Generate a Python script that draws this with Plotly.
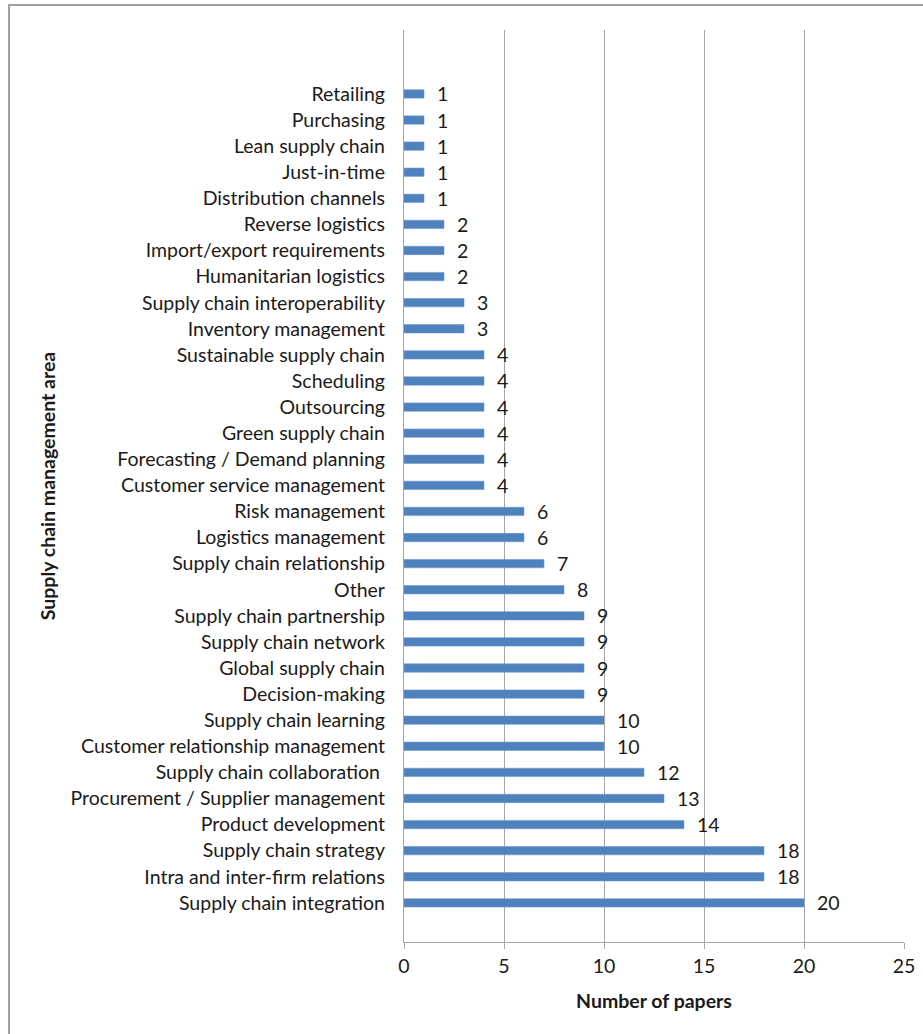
import plotly.graph_objects as go

categories = [
    "Supply chain integration", "Intra and inter-firm relations", "Supply chain strategy",
    "Product development", "Procurement / Supplier management", "Supply chain collaboration ",
    "Customer relationship management", "Supply chain learning", "Decision-making",
    "Global supply chain", "Supply chain network", "Supply chain partnership", "Other",
    "Supply chain relationship", "Logistics management", "Risk management",
    "Customer service management", "Forecasting / Demand planning", "Green supply chain",
    "Outsourcing", "Scheduling", "Sustainable supply chain", "Inventory management",
    "Supply chain interoperability", "Humanitarian logistics", "Import/export requirements",
    "Reverse logistics", "Distribution channels", "Just-in-time", "Lean supply chain",
    "Purchasing", "Retailing",
]
papers = [20, 18, 18, 14, 13, 12, 10, 10, 9, 9, 9, 9, 8, 7, 6, 6,
          4, 4, 4, 4, 4, 4, 3, 3, 2, 2, 2, 1, 1, 1, 1, 1]
x_ticks = [0, 5, 10, 15, 20, 25]

FONT = "Lato, Carlito, Calibri, sans-serif"
FS = 19.5

fig = go.Figure(go.Bar(
    x=papers, y=categories, orientation="h",
    width=0.32,
    marker=dict(color="#4f81bd", line=dict(color="#6b98cf", width=0.6)),
    text=papers, texttemplate="  %{x}", textposition="outside",
    constraintext="none",
    textfont=dict(family=FONT, size=FS, color="#1a1a1a"),
    cliponaxis=False,
))

fig.update_layout(
    width=923, height=1034,
    margin=dict(l=404, r=19, t=30, b=92, autoexpand=False),
    paper_bgcolor="white", plot_bgcolor="white",
    showlegend=False,
    font=dict(family=FONT, size=FS, color="#1a1a1a"),
    xaxis=dict(
        range=[0, 25], tickvals=x_ticks, showgrid=True, gridcolor="#a6a6a6", gridwidth=1.3,
        zeroline=False, showline=True, linecolor="#a6a6a6", linewidth=1.3,
        ticks="outside", ticklen=6, tickcolor="#a6a6a6", tickwidth=1.3,
        tickfont=dict(family=FONT, size=FS, color="#1a1a1a"),
        title=dict(text="<b>Number of papers</b>", font=dict(family=FONT, size=FS, color="#1a1a1a"), standoff=18),
    ),
    yaxis=dict(
        type="category", range=[-1.5, 33.45],
        showgrid=False, zeroline=False, showline=True, linecolor="#a6a6a6", linewidth=1.3,
        ticks="", ticklabelstandoff=14,
        tickfont=dict(family=FONT, size=FS, color="#1a1a1a"),
        title=dict(text="<b>Supply chain management area</b>", font=dict(family=FONT, size=FS, color="#1a1a1a"), standoff=9),
    ),
    shapes=[dict(type="rect", xref="paper", yref="paper",
                 x0=-0.79, x1=1.3, y0=-0.3, y1=1.0274,
                 line=dict(color="#a0a0a0", width=2), layer="below")],
    bargap=0.6,
)

fig.write_html("out.html")
